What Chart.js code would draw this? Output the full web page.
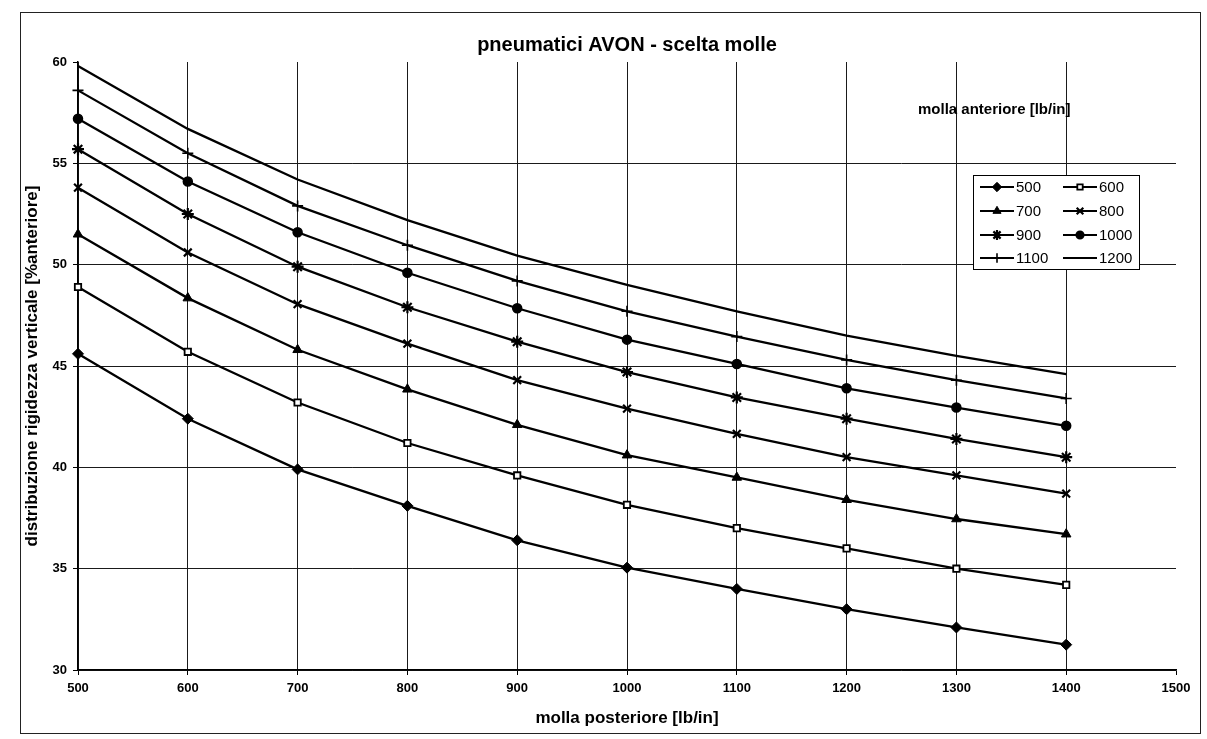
<!DOCTYPE html>
<html>
<head>
<meta charset="utf-8">
<title>pneumatici AVON - scelta molle</title>
<script src="https://cdn.jsdelivr.net/npm/chart.js@4.4.1/dist/chart.umd.min.js"></script>
<style>
  html, body { margin:0; padding:0; background:#fff; }
  #wrap { width:1207px; height:739px; position:relative; }
</style>
</head>
<body>
<div id="wrap"><canvas id="molleChart" width="1207" height="739"></canvas></div>
<script>
// ===============================
// DATI: molla posteriore (x) / % rigidezza anteriore (y)
// ===============================
const rearSprings = [500, 600, 700, 800, 900, 1000, 1100, 1200, 1300, 1400];
const frontLabels = ["500", "600", "700", "800", "900", "1000", "1100", "1200"];

const front500  = [45.6, 42.4, 39.9, 38.1, 36.4, 35.05, 34.0, 33.0, 32.1, 31.25];
const front600  = [48.9, 45.7, 43.2, 41.2, 39.6, 38.15, 37.0, 36.0, 35.0, 34.2];
const front700  = [51.5, 48.35, 45.8, 43.85, 42.1, 40.6, 39.5, 38.4, 37.45, 36.7];
const front800  = [53.8, 50.6, 48.05, 46.1, 44.3, 42.9, 41.65, 40.5, 39.6, 38.7];
const front900  = [55.7, 52.5, 49.9, 47.9, 46.2, 44.7, 43.45, 42.4, 41.4, 40.5];
const front1000 = [57.2, 54.1, 51.6, 49.6, 47.85, 46.3, 45.1, 43.9, 42.95, 42.05];
const front1100 = [58.6, 55.5, 52.9, 50.96, 49.2, 47.7, 46.45, 45.3, 44.3, 43.4];
const front1200 = [59.8, 56.7, 54.2, 52.2, 50.45, 49.0, 47.7, 46.5, 45.5, 44.6];

const seriesValues = [front500, front600, front700, front800, front900, front1000, front1100, front1200];

const FONT = "'Liberation Sans', Arial, Helvetica, sans-serif";
const INK = "#000";

// marker per ogni molla anteriore
const markers = [
  { style:'rectRot',  radius:5.5, fill:INK,    bw:1   },
  { style:'rect',     radius:4.5, fill:'#fff', bw:1.8 },
  { style:'triangle', radius:5.5, fill:INK,    bw:1   },
  { style:'crossRot', radius:5.5, fill:INK,    bw:2.2 },
  { style:'star',     radius:6,   fill:INK,    bw:2.2 },
  { style:'circle',   radius:4.5, fill:INK,    bw:1.5 },
  { style:'cross',    radius:5.5, fill:INK,    bw:1.6 },
  { style:'circle',   radius:0,   fill:INK,    bw:0   }
];

const datasets = seriesValues.map((vals, i) => ({
  label: frontLabels[i],
  data: vals.map((v, j) => ({ x: rearSprings[j], y: v })),
  borderColor: INK,
  borderWidth: 2.3,
  tension: 0,
  clip: false,
  pointStyle: markers[i].style,
  pointRadius: markers[i].radius,
  pointBackgroundColor: markers[i].fill,
  pointBorderColor: INK,
  pointBorderWidth: markers[i].bw,
  fill: false
}));

// ===============================
// PLUGIN: cornice, legenda a 2 colonne, nota "molla anteriore"
// ===============================
const framePlugin = {
  id:'frame',
  beforeDraw(chart){
    const ctx = chart.ctx;
    ctx.save();
    ctx.fillStyle = '#fff';
    ctx.fillRect(0, 0, chart.width, chart.height);
    ctx.strokeStyle = '#222';
    ctx.lineWidth = 1;
    ctx.strokeRect(20.5, 12.5, 1180, 721);
    ctx.restore();
  }
};

const boxLegendPlugin = {
  id:'boxLegend',
  afterDraw(chart){
    const ctx = chart.ctx;
    const drawPoint = Chart.helpers && Chart.helpers.drawPoint;
    ctx.save();

    ctx.font = "bold 15px " + FONT;
    ctx.fillStyle = INK;
    ctx.textBaseline = 'middle';
    ctx.textAlign = 'left';
    ctx.fillText("molla anteriore [lb/in]", 918, 110);

    const box = { x:973, y:175, w:166, h:94 };
    ctx.fillStyle = '#fff';
    ctx.fillRect(box.x, box.y, box.w, box.h);
    ctx.strokeStyle = INK;
    ctx.lineWidth = 1;
    ctx.strokeRect(box.x + 0.5, box.y + 0.5, box.w, box.h);

    const rows = [187, 211, 235, 258];
    const cols = [980, 1063];
    ctx.font = "15px " + FONT;

    chart.data.datasets.forEach((ds, i) => {
      const cx = cols[i % 2];
      const cy = rows[Math.floor(i / 2)];
      ctx.strokeStyle = INK;
      ctx.lineWidth = 2;
      ctx.beginPath();
      ctx.moveTo(cx, cy);
      ctx.lineTo(cx + 34, cy);
      ctx.stroke();
      if(drawPoint && ds.pointRadius > 0){
        ctx.fillStyle = ds.pointBackgroundColor;
        ctx.strokeStyle = ds.pointBorderColor;
        ctx.lineWidth = ds.pointBorderWidth;
        drawPoint(ctx, {
          pointStyle: ds.pointStyle,
          radius: ds.pointRadius * 0.85,
          rotation: 0,
          borderWidth: ds.pointBorderWidth
        }, cx + 17, cy);
      }
      ctx.fillStyle = INK;
      ctx.fillText(ds.label, cx + 36, cy + 1);
    });
    ctx.restore();
  }
};

// ===============================
// CHART
// ===============================
const ctx = document.getElementById("molleChart");

new Chart(ctx, {
  type:'line',
  data:{ datasets },
  plugins:[framePlugin, boxLegendPlugin],
  options:{
    responsive:false,
    animation:false,
    layout:{ padding:{ left:0, right:31, top:0, bottom:0 } },
    plugins:{
      legend:{ display:false },
      tooltip:{ enabled:false },
      title:{
        display:true,
        fullSize:false,
        text:"pneumatici AVON - scelta molle",
        color:INK,
        font:{ family:FONT, size:20, weight:'bold' },
        padding:{ top:33, bottom:5 }
      }
    },
    scales:{
      x:{
        type:'linear',
        min:500,
        max:1500,
        afterFit(scale){ scale.height = 69; },
        ticks:{
          stepSize:100,
          color:INK,
          padding:6,
          maxRotation:0,
          callback: v => String(v),
          font:{ family:FONT, size:13, weight:'bold' }
        },
        grid:{
          color: c => (c.tick && c.tick.value === 1500) ? 'rgba(0,0,0,0)' : '#1a1a1a',
          lineWidth:1,
          tickColor:INK,
          tickLength:5
        },
        border:{ display:true, color:INK, width:1.5 },
        title:{
          display:true,
          text:"molla posteriore [lb/in]",
          color:INK,
          font:{ family:FONT, size:17, weight:'bold' },
          padding:{ top:0, bottom:10 }
        }
      },
      y:{
        min:30,
        max:60,
        afterFit(scale){ scale.width = 78; },
        ticks:{
          stepSize:5,
          color:INK,
          padding:6,
          callback: v => String(v),
          font:{ family:FONT, size:13, weight:'bold' }
        },
        grid:{
          color: c => (c.tick && c.tick.value === 60) ? 'rgba(0,0,0,0)' : '#1a1a1a',
          lineWidth:1,
          tickColor:INK,
          tickLength:5
        },
        border:{ display:true, color:INK, width:1.5 },
        title:{
          display:true,
          text:"distribuzione rigidezza verticale [%anteriore]",
          color:INK,
          font:{ family:FONT, size:17, weight:'bold' },
          padding:{ top:22, bottom:0 }
        }
      }
    }
  }
});
</script>
</body>
</html>
